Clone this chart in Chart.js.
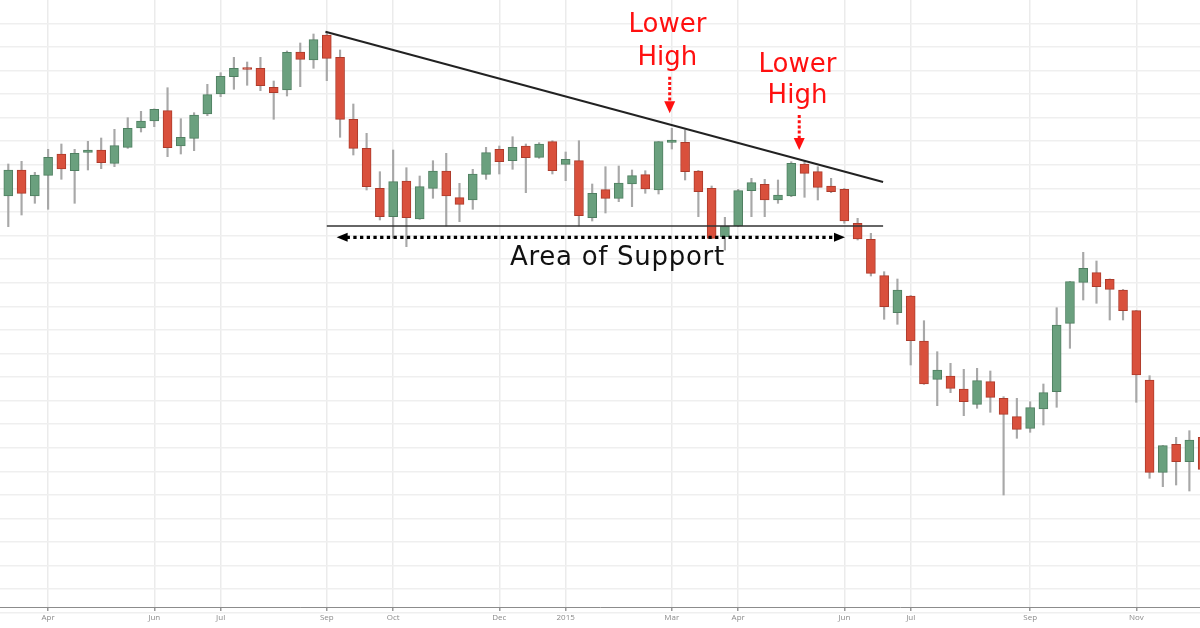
<!DOCTYPE html>
<html>
<head>
<meta charset="utf-8">
<script src="https://cdn.jsdelivr.net/npm/chart.js@4.4.1/dist/chart.umd.min.js"></script>
<style>
  html, body { margin: 0; padding: 0; background: #fff; }
  #wrap { width: 1200px; height: 628px; position: relative; }
</style>
</head>
<body>
<div id="wrap"><canvas id="priceChart"></canvas></div>
<script>
// weekly candles, week 0 = Mon 17 Mar 2014
const opens = [44.04, 46.64, 44.04, 46.11, 48.24, 46.57, 48.41, 48.64, 47.31, 48.91,
  50.84, 51.54, 52.57, 49.04, 49.81, 52.24, 54.24, 55.97, 56.87, 56.81,
  54.91, 54.64, 58.44, 57.64, 60.14, 57.91, 51.71, 48.81, 44.81, 41.97,
  45.54, 41.74, 44.81, 46.54, 43.87, 43.64, 46.21, 48.71, 47.57, 49.04,
  47.91, 49.47, 47.21, 47.57, 41.87, 44.67, 43.81, 45.24, 46.17, 44.64,
  49.41, 49.41, 46.54, 44.81, 39.97, 41.04, 44.57, 45.21, 43.64, 44.04,
  47.24, 46.47, 45.04, 44.71, 41.31, 39.71, 36.07, 32.37, 34.04, 29.54,
  25.71, 26.04, 24.74, 23.21, 25.47, 23.81, 21.97, 20.81, 22.74, 24.47,
  31.31, 35.41, 36.37, 35.71, 34.64, 32.57, 25.64, 16.41, 19.21, 17.47, 19.91];
const highs = [47.24, 47.51, 46.41, 48.71, 49.24, 48.71, 49.51, 49.84, 50.71, 51.87,
  52.51, 52.75, 54.87, 51.77, 52.37, 55.21, 56.37, 57.91, 57.44, 57.91,
  55.54, 58.54, 59.34, 60.24, 60.47, 58.64, 53.24, 50.31, 46.47, 48.64,
  46.87, 46.04, 47.57, 48.31, 45.31, 46.71, 48.91, 49.04, 49.97, 49.24,
  49.37, 49.57, 48.44, 49.57, 45.24, 46.97, 47.04, 46.64, 46.57, 49.5,
  50.81, 50.64, 46.6, 45.04, 41.91, 44.71, 45.81, 45.71, 45.64, 47.47,
  47.47, 46.97, 45.81, 44.81, 41.81, 40.31, 36.47, 35.74, 34.1, 31.57,
  28.47, 27.31, 26.71, 26.81, 26.54, 23.97, 23.81, 23.47, 25.24, 32.87,
  35.5, 38.41, 37.54, 35.75, 34.7, 32.6, 26.07, 19.1, 19.91, 20.57, 20.2];
const lows = [40.97, 42.14, 43.31, 42.71, 45.71, 43.31, 46.64, 46.77, 46.97, 48.8,
  50.44, 50.97, 47.97, 48.24, 48.57, 52.07, 53.97, 54.71, 55.11, 54.57,
  51.71, 54.04, 54.97, 56.81, 55.57, 49.91, 48.14, 44.64, 41.64, 39.84,
  38.97, 41.7, 43.81, 41.04, 41.47, 42.71, 45.71, 46.24, 46.71, 44.37,
  47.81, 46.24, 45.57, 41.04, 41.54, 42.34, 43.47, 42.97, 44.31, 44.24,
  48.74, 45.64, 41.97, 39.8, 38.64, 40.97, 41.97, 41.97, 43.31, 43.97,
  43.91, 43.64, 44.37, 41.31, 39.64, 36.04, 31.71, 31.21, 27.14, 25.2,
  23.07, 24.37, 22.07, 22.81, 22.41, 14.14, 19.81, 20.41, 21.14, 22.91,
  28.81, 33.64, 33.31, 31.64, 31.64, 23.41, 15.81, 14.97, 15.14, 14.54, 16.2];
const closes = [46.64, 44.31, 46.14, 47.91, 46.74, 48.31, 48.64, 47.37, 49.07, 50.81,
  51.54, 52.71, 48.87, 49.91, 52.14, 54.17, 56.01, 56.81, 56.71, 55.07,
  54.37, 58.41, 57.71, 59.67, 57.81, 51.71, 48.81, 44.97, 41.97, 45.47,
  41.87, 44.97, 46.54, 44.04, 43.21, 46.24, 48.37, 47.47, 48.91, 47.87,
  49.24, 46.57, 47.71, 42.07, 44.31, 43.81, 45.34, 46.07, 44.74, 49.47,
  49.64, 46.47, 44.47, 39.81, 41.04, 44.57, 45.37, 43.64, 44.14, 47.31,
  46.31, 44.91, 44.47, 41.54, 39.74, 36.31, 32.97, 34.64, 29.57, 25.24,
  26.64, 24.81, 23.47, 25.57, 23.91, 22.21, 20.71, 22.87, 24.37, 31.14,
  35.47, 36.81, 34.97, 34.71, 32.57, 26.14, 16.41, 19.07, 17.47, 19.64, 16.71];

// month labels on the time axis (week index of the first week in the month)
const tickWeeks = [3, 11, 16, 24, 29, 37, 42, 50, 55, 63, 68, 77, 85];
const tickLabels = ['Apr', 'Jun', 'Jul', 'Sep', 'Oct', 'Dec', '2015', 'Mar', 'Apr', 'Jun', 'Jul', 'Sep', 'Nov'];

// annotations, given as [week, price]
const trendLine = [[23.9, 60.47], [65.92, 45.44]];
const supportLine = [[24.0, 41.04], [65.92, 41.04]];
const supportArrow = [[24.74, 39.91], [63.05, 39.91]];
const supportLabel = [45.9, 37.14, 'Area of Support'];
// [week, price at top of arrow, price at tip]
const lowerHighArrows = [[49.84, 55.97, 52.31], [59.6, 52.14, 48.64]];
// [week, baseline line 1, baseline line 2]
const lowerHighLabels = [[49.67, 60.47, 57.14], [59.47, 56.47, 53.31]];

const gridStep = 2.358;

const red = '#d9503c', redEdge = '#ad3b2b';
const green = '#6aa07e', greenEdge = '#4f7f61';

function isUp(i) {
  return closes[i] >= opens[i];
}

/**
 * @brief draws the trend line, support area arrow and the red labels
 */
const annotations = {
  id: 'annotations',
  afterDatasetsDraw(chart) {
    const ctx = chart.ctx;
    const px = v => chart.scales.x.getPixelForValue(v);
    const py = v => chart.scales.y.getPixelForValue(v);
    ctx.save();

    // falling trend line
    ctx.strokeStyle = '#222';
    ctx.lineWidth = 2;
    ctx.beginPath();
    ctx.moveTo(px(trendLine[0][0]), py(trendLine[0][1]));
    ctx.lineTo(px(trendLine[1][0]), py(trendLine[1][1]));
    ctx.stroke();

    // support line
    ctx.strokeStyle = '#333';
    ctx.lineWidth = 1.5;
    ctx.beginPath();
    ctx.moveTo(px(supportLine[0][0]), py(supportLine[0][1]));
    ctx.lineTo(px(supportLine[1][0]), py(supportLine[1][1]));
    ctx.stroke();

    // dotted double arrow under the support
    const ay = py(supportArrow[0][1]);
    const ax1 = px(supportArrow[0][0]);
    const ax2 = px(supportArrow[1][0]);
    ctx.strokeStyle = '#000';
    ctx.fillStyle = '#000';
    ctx.lineWidth = 3.3;
    ctx.setLineDash([3.3, 3.4]);
    ctx.beginPath();
    ctx.moveTo(ax1 + 10, ay);
    ctx.lineTo(ax2 - 10, ay);
    ctx.stroke();
    ctx.setLineDash([]);
    ctx.beginPath();
    ctx.moveTo(ax1, ay);
    ctx.lineTo(ax1 + 11, ay - 4.5);
    ctx.lineTo(ax1 + 11, ay + 4.5);
    ctx.closePath();
    ctx.fill();
    ctx.beginPath();
    ctx.moveTo(ax2, ay);
    ctx.lineTo(ax2 - 11, ay - 4.5);
    ctx.lineTo(ax2 - 11, ay + 4.5);
    ctx.closePath();
    ctx.fill();

    ctx.font = '26px "DejaVu Sans"';
    ctx.textAlign = 'center';
    ctx.textBaseline = 'alphabetic';
    ctx.fillStyle = '#111';
    ctx.letterSpacing = '0.7px';
    ctx.fillText(supportLabel[2], px(supportLabel[0]), py(supportLabel[1]));
    ctx.letterSpacing = '0px';

    // red "Lower High" labels with dotted arrows
    ctx.fillStyle = '#ff1010';
    ctx.strokeStyle = '#ff1010';
    lowerHighLabels.forEach(l => {
      ctx.fillText('Lower', px(l[0]), py(l[1]));
      ctx.fillText('High', px(l[0]), py(l[2]));
    });
    lowerHighArrows.forEach(a => {
      const x = px(a[0]);
      const y1 = py(a[1]);
      const tip = py(a[2]);
      ctx.lineWidth = 3;
      ctx.setLineDash([3, 2.2]);
      ctx.beginPath();
      ctx.moveTo(x, y1);
      ctx.lineTo(x, tip - 12);
      ctx.stroke();
      ctx.setLineDash([]);
      ctx.beginPath();
      ctx.moveTo(x, tip);
      ctx.lineTo(x - 5.5, tip - 12);
      ctx.lineTo(x + 5.5, tip - 12);
      ctx.closePath();
      ctx.fill();
    });

    ctx.restore();
  }
};

new Chart('priceChart', {
  type: 'bar',
  data: {
    datasets: [{
      label: 'Body',
      data: opens.map((o, i) => ({ x: i, y: [o, closes[i]] })),
      backgroundColor: c => isUp(c.dataIndex) ? green : red,
      borderColor: c => isUp(c.dataIndex) ? greenEdge : redEdge,
      borderWidth: 1,
      borderSkipped: false,
      barThickness: 9,
      grouped: false,
      order: 0
    }, {
      label: 'Wick',
      data: lows.map((l, i) => ({ x: i, y: [l, highs[i]] })),
      backgroundColor: '#a8a8a8',
      borderWidth: 0,
      barThickness: 1.5,
      grouped: false,
      order: 1
    }]
  },
  options: {
    responsive: true,
    maintainAspectRatio: false,
    animation: false,
    layout: { padding: 0 },
    plugins: {
      legend: { display: false },
      tooltip: { enabled: false }
    },
    scales: {
      x: {
        type: 'linear',
        min: -0.625,
        max: 89.8,
        offset: false,
        afterBuildTicks: s => { s.ticks = tickWeeks.map(v => ({ value: v })); },
        afterFit: s => { s.height = 21; },
        ticks: {
          autoSkip: false,
          maxRotation: 0,
          padding: 2,
          color: '#8a8a8a',
          font: { size: 8, family: 'Open Sans' },
          callback: (v, i) => tickLabels[i]
        },
        grid: { color: '#ebebeb', lineWidth: 1.5, tickLength: 4, tickColor: '#999', offset: false },
        border: { color: '#8c8c8c', width: 1 }
      },
      y: {
        min: 2.94,
        max: 63.64,
        afterBuildTicks: s => {
          const t = [];
          for (let k = 1; k * gridStep < 63.64; k++) t.push({ value: k * gridStep });
          s.ticks = t;
        },
        ticks: { display: false },
        grid: { color: '#efefef', lineWidth: 1.5, drawTicks: false },
        border: { display: false }
      }
    }
  },
  plugins: [annotations]
});
</script>
</body>
</html>
